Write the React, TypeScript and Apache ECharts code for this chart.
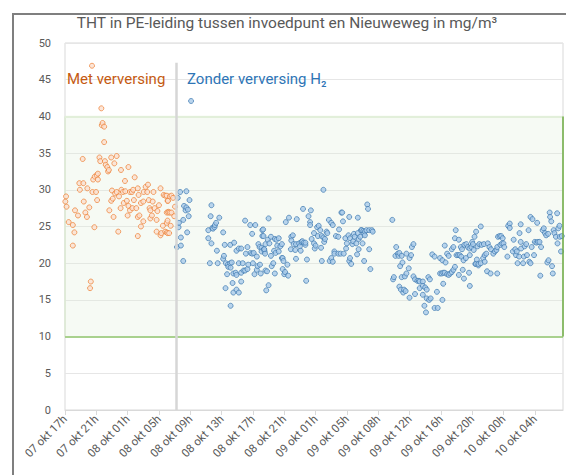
import React, { useEffect, useRef } from "react";
import * as echarts from "echarts";

const titleText = "THT in PE-leiding tussen invoedpunt en Nieuweweg in mg/m³";
const tickLabels = [
  "07 okt 17h", "07 okt 21h", "08 okt 01h", "08 okt 05h", "08 okt 09h", "08 okt 13h",
  "08 okt 17h", "08 okt 21h", "09 okt 01h", "09 okt 05h", "09 okt 08h", "09 okt 12h",
  "09 okt 16h", "09 okt 20h", "10 okt 00h", "10 okt 04h",
];
const yTicks = [0, 5, 10, 15, 20, 25, 30, 35, 40, 45, 50];
const bandRange = [10, 40];
const switchHour = 14.17;
const axisEndHour = 63.6;

// [uur-positie, THT mg/m3]
const metVerversing = [
  [0.04,28.4],[0.13,29.1],[0.2,27.7],[0.47,25.6],[1.0,25.2],[1.0,22.4],[1.2,24.2],[1.28,27.2],[1.66,26.5],[1.83,30.9],[1.9,30.0],[2.26,34.2],[2.34,30.9],[2.4,28.4],[2.6,26.9],[2.8,26.3],[2.85,30.2],[3.1,27.6],[3.2,16.6],[3.3,17.5],[3.45,46.9],[3.5,29.7],[3.6,31.4],[3.75,24.9],[3.8,31.8],[3.96,29.7],[4.05,32.0],[4.1,28.6],[4.2,32.2],[4.2,31.4],[4.4,34.4],[4.5,33.9],[4.64,41.1],[4.7,38.8],[4.8,39.1],[5.0,38.6],[5.0,36.5],[5.1,33.9],[5.2,33.4],[5.4,33.1],[5.5,32.5],[5.6,32.7],[5.66,27.2],[5.9,34.4],[5.9,28.5],[6.0,29.9],[6.1,28.8],[6.2,26.3],[6.3,33.6],[6.4,29.5],[6.6,34.6],[6.6,29.7],[6.8,24.3],[6.9,29.1],[7.1,27.5],[7.15,32.7],[7.2,30.0],[7.4,29.7],[7.5,28.2],[7.66,31.2],[7.7,29.8],[7.9,28.5],[8.0,26.5],[8.1,33.1],[8.1,27.8],[8.3,27.2],[8.3,29.7],[8.55,29.7],[8.6,27.5],[8.7,30.0],[8.8,28.6],[8.9,31.7],[9.1,27.5],[9.3,30.2],[9.3,26.3],[9.3,23.7],[9.4,29.3],[9.5,26.5],[9.7,25.0],[9.7,28.2],[10.0,25.7],[10.0,28.4],[10.05,29.7],[10.3,30.4],[10.5,29.7],[10.6,30.7],[10.7,28.6],[10.8,27.5],[10.9,27.2],[10.9,26.1],[11.1,26.5],[11.2,28.4],[11.3,29.7],[11.45,27.5],[11.7,25.9],[11.7,24.3],[11.8,27.1],[12.0,27.9],[12.2,30.2],[12.2,23.8],[12.3,24.1],[12.5,25.1],[12.6,29.3],[12.8,24.3],[12.8,29.2],[13.0,26.9],[13.0,29.2],[13.0,25.5],[13.0,24.2],[13.1,24.1],[13.1,25.8],[13.1,28.5],[13.15,28.5],[13.2,27.0],[13.2,26.9],[13.3,24.1],[13.4,26.9],[13.4,29.1],[13.5,25.1],[13.6,29.2],[13.6,26.9],[13.8,28.9],[13.95,26.4],[14.05,27.7],
];

const zonderVerversing = [
  [14.3,22.2],[14.4,28.9],[14.5,24.9],[14.55,25.5],[14.7,29.7],[14.8,23.5],[14.8,22.4],[15.1,25.9],[15.1,20.3],[15.2,27.8],[15.4,27.2],[15.5,29.8],[15.5,27.6],[15.6,24.2],[15.7,27.3],[15.8,26.4],[15.9,28.6],[16.1,42.1],
  [18.3,24.5],[18.3,23.4],[18.5,20.0],[18.6,26.4],[18.7,27.9],[18.7,22.7],[18.8,24.8],[18.9,24.7],[19.1,24.9],[19.15,25.2],[19.3,25.5],[19.4,21.7],[19.5,20.0],[19.7,26.2],[20.2,24.2],[20.2,20.6],[20.3,21.0],[20.4,22.5],[20.5,16.6],[20.55,20.0],[20.7,18.5],[20.8,19.8],[20.85,19.5],[21.1,22.5],[21.1,20.0],[21.15,19.4],[21.15,14.2],[21.3,20.1],[21.4,17.3],[21.5,18.6],[21.5,16.0],[21.6,22.8],[21.8,18.7],[21.9,21.7],[21.9,18.4],[21.9,16.4],[22.2,22.0],[22.2,20.0],[22.2,16.0],[22.5,22.0],[22.5,18.7],[22.5,17.5],[22.7,20.0],[22.8,19.0],[23.0,25.8],[23.0,19.0],[23.1,21.3],[23.3,22.2],[23.3,19.2],[23.4,19.8],[23.65,25.2],[23.7,21.4],[23.9,24.0],[23.9,21.3],[24.0,20.0],[24.1,21.4],[24.2,18.5],[24.3,25.2],[24.5,20.9],[24.5,19.1],[24.6,19.6],[24.7,22.6],[24.85,22.2],[24.9,19.8],[25.0,18.6],[25.1,22.1],[25.1,21.6],[25.2,24.5],[25.2,23.7],[25.4,21.9],[25.5,21.6],
  [25.3,24.6],[25.35,23.7],[25.45,21.9],[25.55,21.3],[25.6,22.6],[25.6,19.0],[25.7,16.3],[25.8,18.9],[25.9,23.2],[26.0,26.1],[26.0,17.0],[26.1,22.7],[26.3,23.6],[26.3,21.0],[26.4,19.6],[26.6,20.0],[26.7,21.7],[26.8,23.3],[26.8,18.6],[26.9,21.4],[27.0,23.2],[27.1,22.4],[27.3,23.4],[27.3,21.6],[27.5,22.3],[27.7,22.6],[27.7,20.7],[27.8,19.2],[27.8,20.7],[27.9,20.3],[28.0,18.5],[28.1,18.8],[28.2,25.6],[28.4,19.8],[28.5,18.3],[28.6,26.2],[28.85,21.9],[28.9,23.6],[28.9,23.1],[29.1,23.8],[29.2,22.6],[29.4,21.8],[29.5,22.6],[29.5,20.6],[29.6,26.0],[29.9,22.7],[30.0,22.3],[30.1,21.7],[30.2,22.9],[30.3,23.0],[30.4,27.4],[30.5,22.8],[30.7,22.5],[30.7,22.8],[30.8,17.6],[30.9,20.5],[31.1,26.4],[31.3,25.6],[31.3,25.2],[31.4,27.2],[31.5,23.3],[31.8,24.1],[31.8,22.7],[31.9,22.0],[32.0,22.4],[32.2,24.9],[32.3,23.7],[32.4,25.1],[32.6,24.5],[32.7,22.1],[32.8,23.7],[32.8,20.3],[33.0,23.5],[33.0,30.0],[33.1,22.9],[33.2,23.3],[33.4,24.3],[33.5,24.1],[33.7,25.9],[33.8,20.3],[34.0,25.5],[34.0,20.7],[34.2,25.2],[34.2,20.2],[34.4,21.6],[34.4,21.3],[34.6,23.7],[34.9,23.6],[34.9,21.3],[35.0,24.6],[35.2,21.3],[35.3,26.9],[35.4,26.9],[35.5,25.7],[35.6,21.3],[35.8,23.4],[35.9,22.0],[36.0,22.7],[36.2,23.8],[36.3,26.3],[36.3,20.3],[36.4,23.4],[36.4,20.7],[36.55,19.9],[36.7,22.6],[36.8,23.0],[36.9,24.0],[37.0,23.6],[37.2,22.7],[37.3,21.2],[37.4,24.1],[37.4,26.2],[37.5,23.3],[37.5,21.9],[37.7,23.6],[37.8,24.5],
  [37.9,24.5],[38.0,22.7],[38.1,24.4],[38.2,24.0],[38.2,20.3],[38.3,24.3],[38.3,23.8],[38.5,24.5],[38.6,28.0],[38.7,27.4],[38.85,24.5],[38.85,21.9],[39.0,19.2],[39.2,24.5],[39.3,24.3],
  [41.8,25.9],[41.9,17.8],[42.0,18.1],[42.2,21.0],[42.3,22.2],[42.5,21.3],[42.6,21.0],[42.7,21.4],[42.7,16.8],[42.8,19.6],[42.9,16.4],[43.0,21.0],[43.0,18.1],[43.1,20.1],[43.2,16.0],[43.3,16.4],[43.4,18.2],[43.5,16.2],[43.6,21.3],[43.6,18.6],[43.9,19.3],[44.0,20.7],[44.0,15.3],[44.2,21.1],[44.3,22.2],[44.5,22.6],[44.5,18.2],[44.7,17.8],[44.7,15.8],[45.0,17.6],[45.2,17.6],[45.3,17.5],[45.3,16.6],[45.7,17.5],[45.7,16.9],[45.7,15.7],[45.9,14.2],[46.0,16.7],[46.1,13.3],[46.2,16.4],[46.2,15.2],[46.4,18.1],[46.5,15.0],[46.6,17.8],[46.7,15.2],[46.9,21.2],[47.2,20.9],[47.2,13.9],[47.5,16.1],[47.6,13.9],[47.9,20.7],[47.9,18.6],[48.1,18.6],[48.2,20.4],[48.2,15.0],[48.3,18.7],[48.3,17.2],[48.5,22.4],[48.5,18.7],[48.6,20.1],[48.8,21.3],[48.8,18.5],[49.0,21.0],[49.0,18.4],[49.2,18.6],[49.4,21.9],[49.4,18.8],[49.6,22.2],[49.6,19.1],[49.8,23.4],[49.8,19.5],[49.9,24.5],[50.0,21.1],[50.2,21.1],
  [50.3,23.2],[50.3,18.4],[50.4,21.1],[50.55,22.2],[50.6,20.9],[50.7,21.9],[50.8,19.1],[50.9,20.4],[50.95,17.9],[51.0,22.5],[51.2,20.7],[51.25,22.6],[51.45,22.2],[51.6,18.7],[51.65,22.0],[51.7,21.1],[51.7,16.9],[51.9,22.2],[52.0,22.9],[52.1,22.6],[52.2,21.8],[52.3,23.6],[52.4,19.9],[52.5,24.3],[52.5,19.9],[52.6,20.5],[52.7,22.3],[52.8,19.7],[52.8,19.9],[52.9,22.6],[53.1,25.0],[53.1,20.0],[53.2,22.5],[53.4,20.7],[53.5,22.6],[53.6,21.1],[53.6,20.2],[53.8,21.3],[53.9,18.9],[54.0,22.7],[54.2,22.2],[54.35,18.6],[54.4,21.9],[54.7,21.3],[54.9,21.6],[55.1,21.8],[55.2,22.2],[55.2,18.6],[55.3,23.6],[55.5,23.7],[55.6,22.5],[55.7,23.7],[55.8,22.7],[55.9,23.4],[56.0,22.7],[56.1,22.2],[56.5,20.9],[56.6,25.1],[56.8,25.4],[56.8,24.8],[57.2,21.6],[57.3,23.2],[57.5,21.9],[57.6,21.1],[57.7,21.6],[57.8,20.0],[58.0,20.9],[58.05,24.1],[58.2,22.9],[58.2,25.3],[58.25,22.0],[58.5,20.0],[58.6,20.9],[58.7,22.3],[58.9,22.6],[59.0,21.1],[59.2,24.5],[59.3,20.2],[59.45,20.0],[59.45,26.3],[59.6,22.2],[59.7,26.0],[59.9,21.1],[60.0,22.9],[60.2,22.8],[60.3,25.5],[60.4,22.9],[60.6,22.9],[60.7,18.3],[60.8,22.2],[61.0,24.5],[61.15,24.75],[61.3,24.1],[61.45,23.8],[61.6,20.1],[61.7,24.0],[61.75,20.4],[61.9,26.9],[61.95,26.3],[62.1,25.7],[62.2,19.6],[62.3,18.6],[62.4,24.5],[62.5,24.1],[62.7,23.6],[62.85,26.8],[62.9,22.7],[63.0,24.75],[63.15,25.1],[63.2,23.6],[63.35,21.6],[63.45,23.7],
];

const FONT = "Roboto, 'Liberation Sans', sans-serif";

export default function App() {
  const ref = useRef<HTMLDivElement>(null);

  useEffect(() => {
    if (!ref.current) return;
    const chart = echarts.init(ref.current, null, { renderer: "svg" });
    const tickHours = tickLabels.map((_, i) => i * 4);

    chart.setOption({
      animation: false,
      backgroundColor: "#ffffff",
      textStyle: { fontFamily: FONT },
      grid: {
        left: 65, right: 3, top: 43, bottom: 65,
        show: true, borderColor: "#D9D9D9", borderWidth: 1,
        outerBoundsMode: "none",
      },
      graphic: [
        {
          type: "rect", silent: true, z: 100,
          shape: { x: 13, y: 14, width: 600, height: 500 },
          style: { fill: "none", stroke: "#7F7F7F", lineWidth: 2 },
        },
        {
          type: "text", x: 287, y: 23, z: 100,
          style: {
            text: titleText, fill: "#595959", font: `15.5px ${FONT}`,
            textAlign: "center", textVerticalAlign: "middle",
          },
        },
        {
          type: "text", x: 67, y: 79, z: 100,
          style: {
            text: "Met verversing", fill: "#C55A11", font: `15px ${FONT}`,
            textAlign: "left", textVerticalAlign: "middle",
          },
        },
        {
          type: "text", x: 187, y: 79, z: 100,
          style: {
            text: "Zonder verversing H₂", fill: "#2E75B6", font: `15px ${FONT}`,
            textAlign: "left", textVerticalAlign: "middle",
          },
        },
      ],
      xAxis: {
        type: "value",
        min: 0,
        max: axisEndHour,
        interval: 4,
        axisLine: { show: true, lineStyle: { color: "#D9D9D9", width: 1 } },
        axisTick: {
          show: true, length: 5, customValues: tickHours,
          lineStyle: { color: "#D9D9D9" },
        },
        axisLabel: {
          customValues: tickHours,
          rotate: 45,
          color: "#595959",
          fontSize: 11.5,
          fontFamily: FONT,
          margin: 7,
          formatter: (v: number) => {
            const i = Math.round(v / 4);
            return Math.abs(v - i * 4) < 0.01 && tickLabels[i] ? tickLabels[i] : "";
          },
        },
        splitLine: { show: false },
      },
      yAxis: {
        type: "value",
        min: yTicks[0],
        max: yTicks[yTicks.length - 1],
        interval: 5,
        axisLine: { show: false },
        axisTick: { show: false },
        axisLabel: { color: "#595959", fontSize: 11, margin: 14, fontFamily: FONT },
        splitLine: { show: true, lineStyle: { color: "#E6E6E6", width: 1 } },
      },
      series: [
        {
          type: "line",
          data: [],
          silent: true,
          z: 1,
          markArea: {
            silent: true,
            itemStyle: { color: "rgba(226,239,218,0.3)", borderColor: "#D5E8C8", borderWidth: 1 },
            data: [[{ yAxis: bandRange[0] }, { yAxis: bandRange[1] }]],
          },
          markLine: {
            silent: true,
            symbol: "none",
            label: { show: false },
            data: [
              [
                { coord: [0, bandRange[0]], lineStyle: { color: "#A9D18E", width: 2, type: "solid" } },
                { coord: [axisEndHour, bandRange[0]] },
              ],
              [
                { coord: [0, bandRange[1]], lineStyle: { color: "#E2EFDA", width: 2, type: "solid" } },
                { coord: [axisEndHour, bandRange[1]] },
              ],
              [
                { coord: [axisEndHour, bandRange[0]], lineStyle: { color: "#70AD47", width: 1.5, type: "solid" } },
                { coord: [axisEndHour, bandRange[1]] },
              ],
              [
                { coord: [switchHour, 0], lineStyle: { color: "#D6D6D6", width: 2.5, type: "solid" } },
                { coord: [switchHour, 47.3] },
              ],
            ],
          },
        },
        {
          name: "Met verversing",
          type: "scatter",
          z: 3,
          symbol: "circle",
          symbolSize: 5,
          itemStyle: { color: "#FBE0CF", borderColor: "#ED7D31", borderWidth: 0.9 },
          data: metVerversing,
        },
        {
          name: "Zonder verversing H2",
          type: "scatter",
          z: 3,
          symbol: "circle",
          symbolSize: 5,
          itemStyle: { color: "#A9CBEA", borderColor: "#3C78B0", borderWidth: 0.9 },
          data: zonderVerversing,
        },
      ],
    });
    return () => chart.dispose();
  }, []);

  return (
    <div
      ref={ref}
      style={{ position: "fixed", left: 0, top: 0, width: 566, height: 475 }}
    />
  );
}
